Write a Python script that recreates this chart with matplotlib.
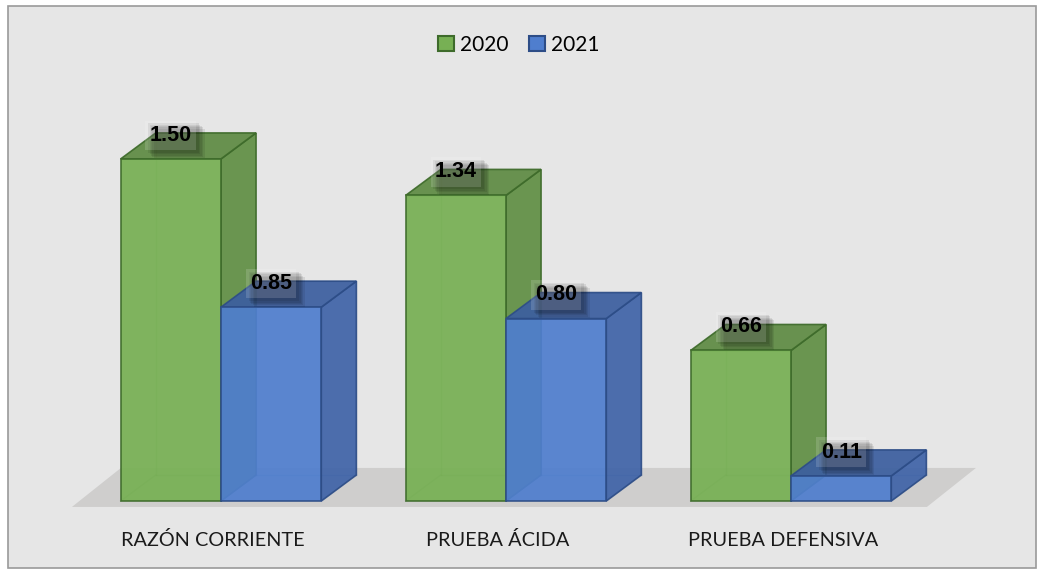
import matplotlib.pyplot as plt
import matplotlib.patheffects as pe
from matplotlib.patches import Polygon, Rectangle

plt.rcParams['font.family'] = ['Lato', 'DejaVu Sans']

categories = ["RAZÓN CORRIENTE", "PRUEBA ÁCIDA", "PRUEBA DEFENSIVA"]
series_names = ["2020", "2021"]
values_2020 = [1.50, 1.34, 0.66]
values_2021 = [0.85, 0.80, 0.11]

# face colours: front, side, top, edge
GREEN = dict(front="#77b054", side="#618f45", top="#5f8b43", edge="#3e6b2b")
BLUE = dict(front="#4f7ece", side="#4064a8", top="#3c5f9f", edge="#2d4d87")

BAR_W = 0.352
DX, DY = 0.123, 0.114          # depth of the boxes in data units
BG = "#e6e6e6"

fig = plt.figure(figsize=(10.38, 5.70), dpi=100)
fig.patch.set_facecolor("white")
fig.add_artist(Rectangle((8 / 1038, 2 / 570), 1028 / 1038, 562 / 570,
                         transform=fig.transFigure, facecolor=BG,
                         edgecolor="#9a9a9a", linewidth=1.2, zorder=0))

ax = fig.add_axes([0, 0, 1, 1])
ax.set_xlim(-0.7754, 2.8667)
ax.set_ylim(-0.3026, 2.197)
ax.axis("off")

# floor
n = len(categories)
fl, fr = -0.523, n - 0.523
f0, f1 = -0.026, 0.145
ax.add_patch(Polygon([(fl, f0), (fr, f0), (fr + 0.172, f1), (fl + 0.172, f1)],
                     closed=True, facecolor="#cfcecd", edgecolor="none", zorder=1))


def draw_box(x0, h, c, z):
    x1 = x0 + BAR_W
    # hidden back edges, seen through the translucent faces
    for seg in ([(x0 + DX, DY), (x1 + DX, DY)],
                [(x0 + DX, DY), (x0 + DX, h + DY)],
                [(x0, 0), (x0 + DX, DY)]):
        xs, ys = zip(*seg)
        ax.plot(xs, ys, color=c["edge"], lw=1.0, alpha=0.3, zorder=z)
    kw = dict(closed=True, edgecolor=c["edge"], linewidth=1.2, alpha=0.93, zorder=z + 0.1)
    ax.add_patch(Polygon([(x1, 0), (x1 + DX, DY), (x1 + DX, h + DY), (x1, h)],
                         facecolor=c["side"], **kw))
    ax.add_patch(Polygon([(x0, h), (x1, h), (x1 + DX, h + DY), (x0 + DX, h + DY)],
                         facecolor=c["top"], **kw))
    ax.add_patch(Polygon([(x0, 0), (x1, 0), (x1, h), (x0, h)],
                         facecolor=c["front"], **kw))


# soft drop shadow built from stacked offsets
SHADOW = [pe.SimplePatchShadow(offset=(o, -o), shadow_rgbFace="black", alpha=0.08)
          for o in (2, 3, 4, 5, 6)] + [pe.Normal()]


def value_label(xc, h):
    t = ax.annotate(f"{h:.2f}", (xc, h), xytext=(0, 17), textcoords="offset points",
                    ha="center", va="center", fontsize=15.5, fontweight="bold",
                    family=["Liberation Sans", "DejaVu Sans"], color="black", zorder=20,
                    bbox=dict(boxstyle="square,pad=0.2", facecolor="white",
                              edgecolor="none", alpha=0.15))
    t.get_bbox_patch().set_path_effects(SHADOW)


for i in range(n):
    z = 2 + i * 2
    draw_box(i - BAR_W, values_2020[i], GREEN, z)
    draw_box(i, values_2021[i], BLUE, z + 1)

for i in range(n):
    value_label(i - BAR_W / 2, values_2020[i])
    value_label(i + BAR_W / 2, values_2021[i])

# category labels
for i, cat in enumerate(categories):
    ax.annotate(cat, (i, -0.026), xytext=(-6, -24), textcoords="offset points",
                ha="center", va="center", fontsize=14.3, color="#1a1a1a")

# legend
handles = [Rectangle((0, 0), 1, 1, facecolor=c["front"], edgecolor=c["edge"], lw=1.5)
           for c in (GREEN, BLUE)]
leg = fig.legend(handles, series_names, loc="center", bbox_to_anchor=(0.5, 1 - 45 / 570),
                 ncol=2, frameon=False, fontsize=15, handlelength=0.75, handleheight=0.75,
                 handletextpad=0.3, columnspacing=1.0)

fig.savefig("out.png", dpi=100, facecolor=fig.get_facecolor())
